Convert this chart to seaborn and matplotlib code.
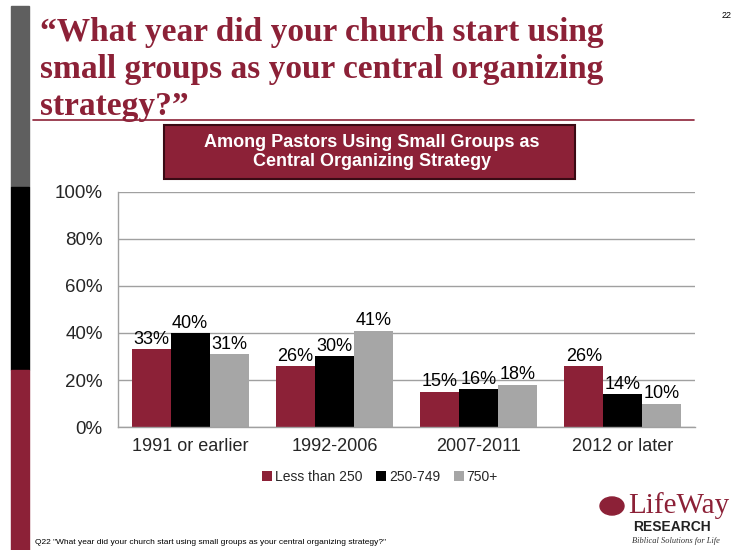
import numpy as np
import pandas as pd
import matplotlib
matplotlib.use("Agg")
import matplotlib.pyplot as plt
import seaborn as sns
from matplotlib.patches import Rectangle, FancyBboxPatch, Circle

categories = ["1991 or earlier", "1992-2006", "2007-2011", "2012 or later"]
series_names = ["Less than 250", "250-749", "750+"]
less_than_250 = [33, 26, 15, 26]
mid_250_749 = [40, 30, 16, 14]
over_750 = [31, 41, 18, 10]
y_ticks = [0, 20, 40, 60, 80, 100]

MAROON = "#8C2137"
GRAY = "#A6A6A6"
palette = [MAROON, "#000000", GRAY]

rows = []
for name, vals in zip(series_names, [less_than_250, mid_250_749, over_750]):
    for c, v in zip(categories, vals):
        rows.append({"period": c, "size": name, "pct": v})
df = pd.DataFrame(rows)

sns.set_theme(style="white")
plt.rcParams["font.family"] = ["Liberation Sans", "DejaVu Sans"]

fig = plt.figure(figsize=(7.31, 5.5), dpi=100)
ax = fig.add_axes([0.1614, 0.2236, 0.7894, 0.4274])

sns.barplot(data=df, x="period", y="pct", hue="size", order=categories,
            hue_order=series_names, palette=palette, width=0.81,
            saturation=1, ax=ax, legend=True, edgecolor="none")

ax.set_ylim(0, 100)
ax.set_xlim(-0.5, len(categories) - 0.5)
ax.set_yticks(y_ticks)
ax.set_yticklabels([f"{t}%" for t in y_ticks], fontsize=13.5)
ax.tick_params(axis="x", labelsize=13, length=0, pad=8)
ax.tick_params(axis="y", length=0, pad=11)
ax.set_xlabel("")
ax.set_ylabel("")
ax.yaxis.grid(True, color="#A0A0A0", linewidth=1)
ax.set_axisbelow(True)
for s in ["top", "right"]:
    ax.spines[s].set_visible(False)
for s in ["left", "bottom"]:
    ax.spines[s].set_color("#A0A0A0")
    ax.spines[s].set_linewidth(1)

for cont in ax.containers:
    ax.bar_label(cont, labels=[f"{v:.0f}%" for v in cont.datavalues],
                 fontsize=13, padding=1, color="black")

leg = ax.legend(loc="upper center", bbox_to_anchor=(0.454, -0.13), ncol=3,
                frameon=False, fontsize=10, handlelength=0.7,
                handleheight=0.7, handletextpad=0.2, columnspacing=1.0)

# Left edge color band
fig.patches.append(Rectangle((11 / 731, 1 - 187 / 550), 18 / 731, 181 / 550,
                             transform=fig.transFigure, color="#5F5F5F", zorder=0))
fig.patches.append(Rectangle((11 / 731, 1 - 370 / 550), 18 / 731, 183 / 550,
                             transform=fig.transFigure, color="#000000", zorder=0))
fig.patches.append(Rectangle((11 / 731, 0), 18 / 731, 180 / 550,
                             transform=fig.transFigure, color=MAROON, zorder=0))

# Title
title_lines = ["\u201cWhat year did your church start using",
               "small groups as your central organizing",
               "strategy?\u201d"]
for i, line in enumerate(title_lines):
    fig.text(40 / 731, 1 - (33 + 37 * i) / 550, line, family="Liberation Serif",
             fontweight="bold", fontsize=24, color=MAROON, va="center", ha="left")
fig.add_artist(plt.Line2D([33 / 731, 694 / 731], [1 - 120 / 550] * 2,
                          transform=fig.transFigure, color=MAROON, lw=1.2))
fig.text(722 / 731, 1 - 15 / 550, "22", fontsize=6.5, color="black", va="center")

# Subtitle banner
fig.patches.append(FancyBboxPatch((164 / 731, 1 - 179 / 550), 411 / 731, 54 / 550,
                                  boxstyle="square,pad=0", transform=fig.transFigure,
                                  facecolor=MAROON, edgecolor="#3A0A14", lw=1.5))
fig.text(372 / 731, 1 - 152 / 550,
         "Among Pastors Using Small Groups as\nCentral Organizing Strategy",
         ha="center", va="center", fontsize=13, fontweight="bold", color="white",
         linespacing=1.1)

# Footnote
fig.text(35 / 731, 1 - 543 / 550,
         "Q22 \"What year did your church start using small groups as your central organizing strategy?\"",
         fontsize=6, color="black", va="center")

# Logo
fig.patches.append(Circle((612 / 731, 1 - 506 / 550), 12 / 731, transform=fig.transFigure,
                          color=MAROON))
fig.text(628 / 731, 1 - 506 / 550, "LifeWay", family="Liberation Serif", fontsize=21,
         color=MAROON, va="center", ha="left")
fig.text(633 / 731, 1 - 527 / 550, "RESEARCH", fontsize=10, fontweight="bold",
         color="#222222", va="center", ha="left")
fig.text(632 / 731, 1 - 541 / 550, "Biblical Solutions for Life", family="Liberation Serif",
         fontsize=6, style="italic", color="#333333", va="center", ha="left")

fig.savefig("out.png", dpi=100)
